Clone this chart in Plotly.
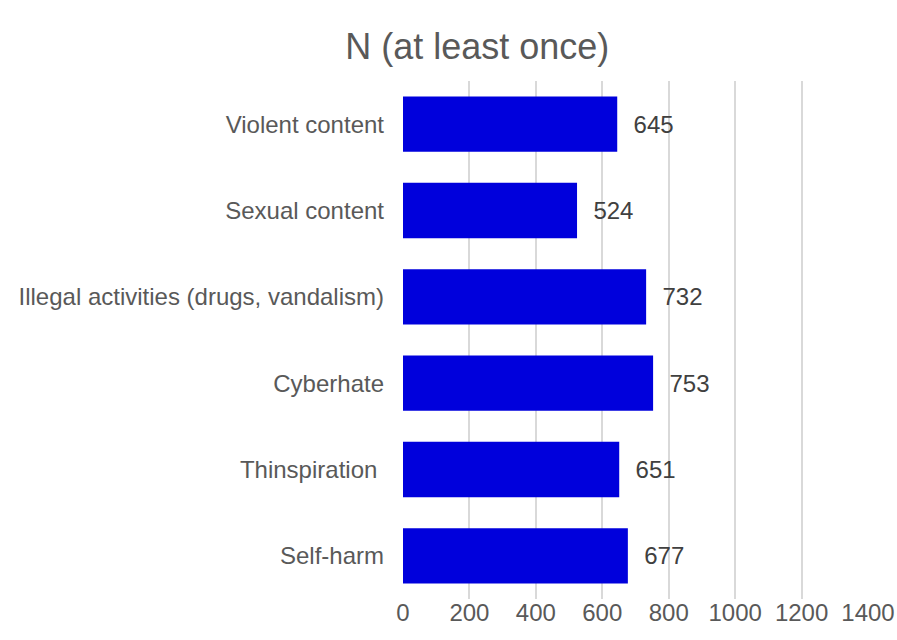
import plotly.graph_objects as go

categories = ["Violent content", "Sexual content", "Illegal activities (drugs, vandalism)",
              "Cyberhate", "Thinspiration ", "Self-harm"]
values = [645, 524, 732, 753, 651, 677]
x_ticks = [0, 200, 400, 600, 800, 1000, 1200, 1400]

FONT = "Liberation Sans, Arial"

fig = go.Figure(go.Bar(
    x=values, y=categories, orientation="h",
    marker=dict(color="#0000DC", line=dict(width=0)),
    width=0.64,
    text=[str(v) for v in values], textposition="outside",
    texttemplate="  %{text}",
    textfont=dict(family=FONT, size=24, color="#404040"),
    cliponaxis=False,
))

fig.update_layout(
    width=897, height=640,
    margin=dict(l=403, r=29, t=81, b=41, autoexpand=False),
    paper_bgcolor="white", plot_bgcolor="white",
    title=dict(text="N (at least once)", x=0.532, xanchor="center", y=0.927, yanchor="middle",
               font=dict(family=FONT, size=36, color="#595959")),
    font=dict(family=FONT, color="#595959"),
    showlegend=False,
)
fig.update_xaxes(range=[0, 1400], tickvals=x_ticks, showgrid=True, gridcolor="#D9D9D9",
                 gridwidth=1.5, zeroline=False, showline=False, automargin=False,
                 tickfont=dict(size=24, color="#595959"), ticklabelstandoff=-3)
fig.update_yaxes(categoryorder="array", categoryarray=categories[::-1], showgrid=False,
                 zeroline=False, showline=False, automargin=False,
                 tickfont=dict(size=24, color="#595959"), ticklabelstandoff=18)

fig.write_html("out.html")
